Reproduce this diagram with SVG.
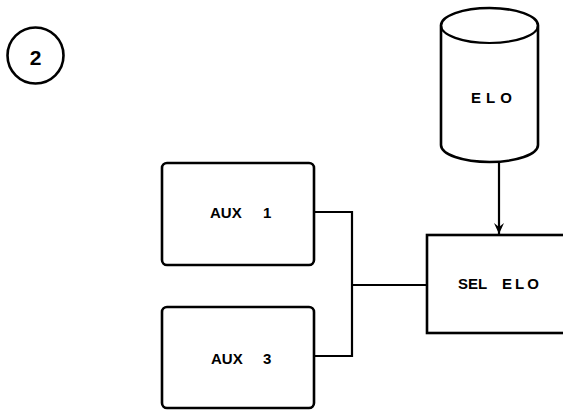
<svg xmlns="http://www.w3.org/2000/svg" width="563" height="411" viewBox="0 0 563 411">
<style>
.box{fill:#fff;stroke:#000;stroke-width:2.6}
.ln{fill:none;stroke:#000;stroke-width:2.2}
.t{font-family:"Liberation Sans",Arial,sans-serif;font-weight:bold;font-size:15px;fill:#000}
</style>
<defs>
<marker id="ah" markerWidth="12" markerHeight="10" refX="11" refY="5" orient="auto" markerUnits="userSpaceOnUse" viewBox="0 0 12 10">
<path d="M0,0 L11,5 L0,10 L4,5 Z" fill="#000"/>
</marker>
</defs>
<rect width="563" height="411" fill="#fff"/>
<g id="label2">
<circle cx="35.5" cy="55.5" r="28" fill="none" stroke="#000" stroke-width="2.6"/>
<text class="t" x="35.5" y="65" text-anchor="middle" style="font-size:21px">2</text>
</g>
<g id="connectors">
<line class="ln" x1="499" y1="162" x2="499" y2="234" marker-end="url(#ah)"/>
<polyline class="ln" points="314,212 352,212 352,356 314,356"/>
<line class="ln" x1="352" y1="285" x2="427" y2="285"/>
</g>
<g id="elo">
<path class="box" d="M441,25.5 A48.5,17.5 0 0 1 538,25.5 L538,145 A48.5,17 0 0 1 441,145 Z"/>
<path class="ln" d="M441,25.5 A48.5,17.5 0 0 0 538,25.5" stroke-width="2"/>
<text class="t" x="471" y="103" letter-spacing="5">ELO</text>
</g>
<g id="aux1">
<rect class="box" x="162" y="163" width="152" height="102" rx="5"/>
<text class="t" x="210" y="218">AUX<tspan x="263">1</tspan></text>
</g>
<g id="aux3">
<rect class="box" x="162" y="307" width="152" height="101" rx="5"/>
<text class="t" x="211" y="364">AUX<tspan x="263">3</tspan></text>
</g>
<g id="selelo">
<rect class="box" x="427" y="235" width="150" height="98"/>
<text class="t" x="458" y="289">SEL<tspan x="502" letter-spacing="3">ELO</tspan></text>
</g>
</svg>
